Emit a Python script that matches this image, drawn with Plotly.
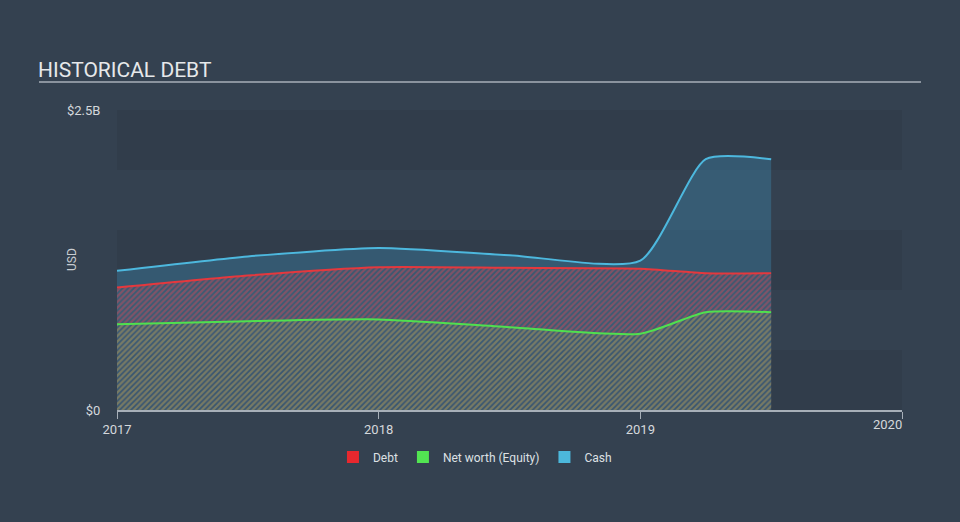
import plotly.graph_objects as go

# ---- data ----
years = [2017.0, 2017.5, 2018.0, 2018.5, 2019.0, 2019.25, 2019.5]
cash = [1.16e9, 1.28e9, 1.35e9, 1.29e9, 1.245e9, 2.09e9, 2.09e9]
debt = [1.02e9, 1.12e9, 1.19e9, 1.185e9, 1.178e9, 1.14e9, 1.14e9]
equity = [0.715e9, 0.74e9, 0.755e9, 0.69e9, 0.636e9, 0.815e9, 0.815e9]

x_ticks = [2017, 2018, 2019]
x_tick_labels = ["2017", "2018", "2019"]
last_tick = 2020
last_tick_label = "2020"
y_ticks = [0, 2.5e9]
y_tick_labels = ["$0", "$2.5B"]

BG = "#344150"
RED = "#e5383d"
GREEN = "#4fe04f"
BLUE = "#4db8de"
FONT = "Roboto"
TICKCOL = "#d4d8dc"
SMOOTH = 0.6

def px_x(p):
    return (p - 117) / 785

def px_y(p):
    return (410 - p) / 300

fig = go.Figure()

# background bands
band_edges = [0, 0.5e9, 1.0e9, 1.5e9, 2.0e9, 2.5e9]
for i in range(0, len(band_edges) - 1, 2):
    fig.add_shape(type="rect", xref="paper", yref="y", x0=0, x1=1,
                  y0=band_edges[i], y1=band_edges[i + 1],
                  fillcolor="rgba(0,0,0,0.05)", line_width=0, layer="below")

fig.add_trace(go.Scatter(
    x=years, y=cash, mode="lines", name="Cash", showlegend=False,
    line=dict(color=BLUE, width=2, shape="spline", smoothing=SMOOTH),
    fill="tozeroy", fillcolor="rgba(65,150,190,0.33)", hoverinfo="skip"))

fig.add_trace(go.Scatter(
    x=years, y=debt, mode="lines", name="Debt", showlegend=False,
    line=dict(color=RED, width=2, shape="spline", smoothing=SMOOTH),
    fill="tozeroy", fillcolor="rgba(0,0,0,0)",
    fillpattern=dict(shape="/", fgcolor="rgba(230,70,85,0.85)", size=4, solidity=0.55),
    hoverinfo="skip"))

fig.add_trace(go.Scatter(
    x=years, y=equity, mode="lines", name="Net worth (Equity)", showlegend=False,
    line=dict(color=GREEN, width=2, shape="spline", smoothing=SMOOTH),
    fill="tozeroy", fillcolor="rgba(0,0,0,0)",
    fillpattern=dict(shape="/", fgcolor="rgba(95,205,95,0.7)", size=4, solidity=0.5),
    hoverinfo="skip"))

# legend-only swatches
for name, col in [("Debt", "#e8282e"), ("Net worth (Equity)", "#52e552"), ("Cash", "#4cb8dc")]:
    fig.add_trace(go.Bar(x=[None], y=[None], name=name, marker_color=col,
                         marker_line_width=0, showlegend=True))

fig.add_annotation(x=last_tick, y=0, xref="x", yref="paper", text=last_tick_label,
                   showarrow=False, xanchor="right", yanchor="top", yshift=-5, xshift=2,
                   font=dict(family=FONT, size=13, color=TICKCOL))

fig.add_annotation(x=px_x(72), y=0.5, xref="paper", yref="paper", text="USD",
                   textangle=-90, showarrow=False, xanchor="center", yanchor="middle",
                   font=dict(family=FONT, size=12, color="#c8ccd0"))

fig.add_annotation(x=px_x(36), y=px_y(70), xref="paper", yref="paper", text="HISTORICAL DEBT",
                   showarrow=False, xanchor="left", yanchor="middle",
                   font=dict(family=FONT, size=21, color="#e6e8ea"))

fig.add_shape(type="line", xref="paper", yref="paper",
              x0=px_x(39), x1=px_x(921), y0=px_y(82), y1=px_y(82),
              line=dict(color="#a7afb8", width=1.5))

fig.update_layout(
    width=960, height=522,
    margin=dict(l=117, r=58, t=110, b=112),
    paper_bgcolor=BG, plot_bgcolor="rgba(0,0,0,0)",
    font=dict(family=FONT, size=12, color=TICKCOL),
    showlegend=True,
    legend=dict(orientation="h", x=0.456, xanchor="center", y=px_y(457), yanchor="middle",
                font=dict(family=FONT, size=12, color="#dde0e4"),
                itemwidth=30, bgcolor="rgba(0,0,0,0)"),
    xaxis=dict(range=[2017, 2020], tickvals=x_ticks + [last_tick],
               ticktext=x_tick_labels + [""], showgrid=False, zeroline=False,
               showline=True, linecolor="#a7afb8", linewidth=1.5,
               ticks="outside", ticklen=7, tickcolor="#a7afb8", tickwidth=1,
               tickfont=dict(family=FONT, size=13, color=TICKCOL), fixedrange=True),
    yaxis=dict(range=[0, 2.5e9], tickvals=y_ticks, ticktext=y_tick_labels,
               showgrid=False, zeroline=False, showline=False,
               ticks="outside", ticklen=13, tickcolor="rgba(0,0,0,0)",
               tickfont=dict(family=FONT, size=13, color=TICKCOL), fixedrange=True),
    hovermode=False,
)

fig.write_html("out.html")
